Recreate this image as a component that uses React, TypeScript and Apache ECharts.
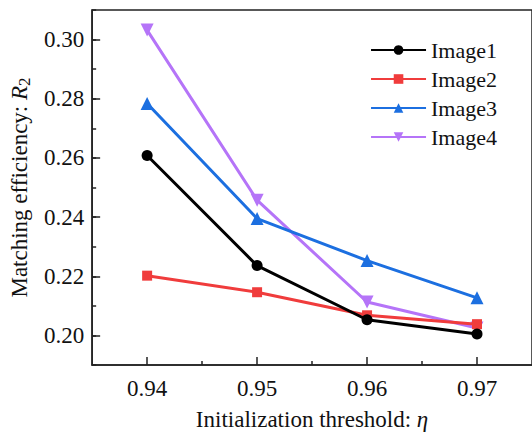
import React, { useEffect, useRef } from "react";
import * as echarts from "echarts";

const thresholds = [0.94, 0.95, 0.96, 0.97];
const image1 = [0.2608, 0.2236, 0.2053, 0.2005];
const image2 = [0.2202, 0.2146, 0.2068, 0.2038];
const image3 = [0.2784, 0.2395, 0.2253, 0.2127];
const image4 = [0.3032, 0.2457, 0.2113, 0.2025];
const seriesNames = ["Image1", "Image2", "Image3", "Image4"];
const yMajorTicks = [0.2, 0.22, 0.24, 0.26, 0.28, 0.3];
const xMajorTicks = [0.94, 0.95, 0.96, 0.97];
const xMinorTicks = [0.945, 0.955, 0.965];

const FONT = "Liberation Serif";
const AXIS_COLOR = "#222";
const TEXT = "#111";

export default function App() {
  const ref = useRef<HTMLDivElement>(null);
  useEffect(() => {
    document.body.style.margin = "0";
    if (!ref.current) return;
    const chart = echarts.init(ref.current, null, { renderer: "svg" });
    const colors = ["#000000", "#f03c3c", "#1c6fe0", "#b574f8"];
    const symbols = ["circle", "rect", "triangle", "path://M0,0 L10,0 L5,9 Z"];
    const sizes = [11, 10, 13, 13];
    const all = [image1, image2, image3, image4];
    chart.setOption({
      animation: false,
      backgroundColor: "#fff",
      textStyle: { fontFamily: FONT },
      grid: {
        left: 91,
        top: 10,
        right: -3,
        bottom: 69,
        show: true,
        borderColor: AXIS_COLOR,
        borderWidth: 1.5,
      },
      legend: {
        top: 34,
        right: 30,
        orient: "vertical",
        itemWidth: 55,
        itemHeight: 12,
        itemGap: 7,
        textStyle: { fontFamily: FONT, fontSize: 22, color: TEXT, lineHeight: 22 },
        data: seriesNames,
      },
      xAxis: [
        {
          type: "value",
          min: 0.935,
          max: 0.975,
          axisLine: { lineStyle: { color: AXIS_COLOR, width: 1.5 } },
          axisTick: { inside: true, length: 8, customValues: xMajorTicks, lineStyle: { color: AXIS_COLOR, width: 1.5 } },
          axisLabel: {
            customValues: xMajorTicks,
            formatter: (v: number) => v.toFixed(2),
            fontFamily: FONT,
            fontSize: 23,
            color: TEXT,
            margin: 12,
          },
          splitLine: { show: false },
          name: "Initialization threshold: {i|η}",
          nameLocation: "middle",
          nameGap: 43,
          nameTextStyle: {
            fontFamily: FONT,
            fontSize: 23,
            color: TEXT,
            rich: { i: { fontFamily: FONT, fontStyle: "italic", fontSize: 23, color: TEXT } },
          },
        },
        {
          type: "value",
          min: 0.935,
          max: 0.975,
          position: "bottom",
          axisLine: { show: false },
          axisTick: { inside: true, length: 4, customValues: xMinorTicks, lineStyle: { color: AXIS_COLOR, width: 1.5 } },
          axisLabel: { show: false },
          splitLine: { show: false },
        },
      ],
      yAxis: [
        {
          type: "value",
          min: 0.19,
          max: 0.31,
          interval: 0.01,
          position: "left",
          axisLine: { show: true, lineStyle: { color: AXIS_COLOR, width: 1.5 } },
          axisTick: { show: true, inside: true, length: 4, lineStyle: { color: AXIS_COLOR, width: 1.5 } },
          axisLabel: { show: false },
          splitLine: { show: false },
        },
        {
          type: "value",
          min: 0.19,
          max: 0.31,
          position: "left",
          axisLine: { show: false },
          axisTick: { show: true, inside: true, length: 8, customValues: yMajorTicks, lineStyle: { color: AXIS_COLOR, width: 1.5 } },
          axisLabel: {
            customValues: yMajorTicks,
            formatter: (v: number) => v.toFixed(2),
            fontFamily: FONT,
            fontSize: 23,
            color: TEXT,
            margin: 8,
          },
          splitLine: { show: false },
          name: "Matching efficiency: {i|R}{sub|2}",
          nameLocation: "middle",
          nameGap: 57,
          nameRotate: 90,
          nameTextStyle: {
            fontFamily: FONT,
            fontSize: 23,
            color: TEXT,
            rich: {
              i: { fontFamily: FONT, fontStyle: "italic", fontSize: 23, color: TEXT },
              sub: { fontFamily: FONT, fontSize: 17, color: TEXT, padding: [10, 0, 0, 0] },
            },
          },
        },
      ],
      series: all.map((vals, i) => ({
        name: seriesNames[i],
        type: "line",
        xAxisIndex: 0,
        yAxisIndex: 0,
        data: thresholds.map((x, j) => [x, vals[j]]),
        symbol: symbols[i],
        symbolSize: sizes[i],
        showSymbol: true,
        lineStyle: { color: colors[i], width: 3 },
        itemStyle: { color: colors[i] },
        z: 10 - i,
      })),
    });
    return () => chart.dispose();
  }, []);
  return <div ref={ref} style={{ width: 532, height: 436 }} />;
}
